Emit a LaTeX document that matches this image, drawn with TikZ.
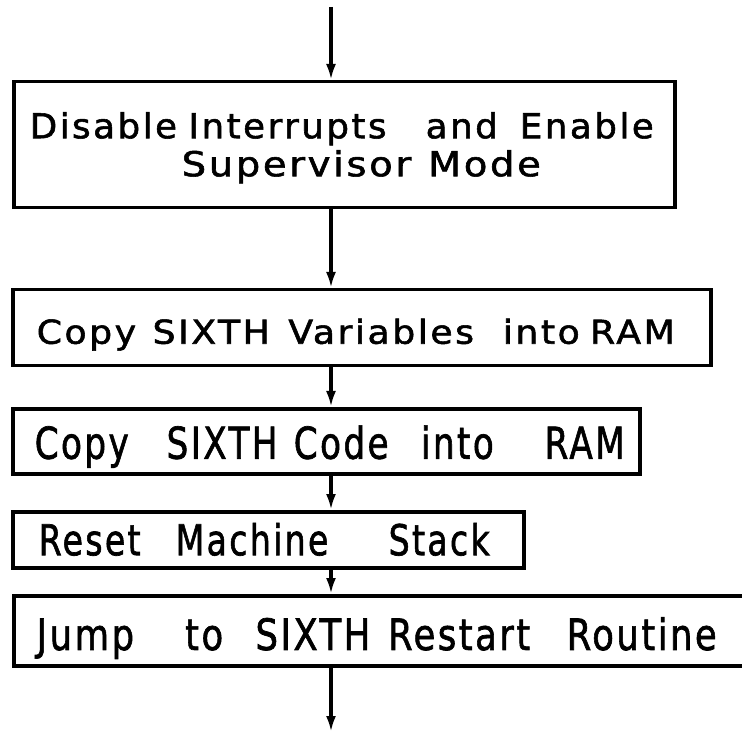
\documentclass[tikz,border=0pt]{standalone}
\usepackage{fontspec}
\setmainfont{DejaVu Sans}
\newfontfamily\lett[LetterSpace=7,FakeBold=1.6]{DejaVu Sans}
\usetikzlibrary{arrows.meta}
\newcommand\g[1]{\hspace{0pt plus #1fil minus #1fil}}
\newcommand\fitwords[3]{%
  \pgfmathsetlengthmacro\natw{#1/#2}%
  \scalebox{#2}[1]{\makebox[\natw][s]{#3}}}
% size, 2*xshift, 2*ydown, width, x-scale, words
\newcommand\oneline[6]{%
  \fontsize{#1}{#1}\lett\hspace*{#2}%
  \raisebox{0pt}[\dimexpr\fontcharht\font`H+#3\relax][0pt]{\fitwords{#4}{#5}{#6}}}
\tikzset{
  flowbox/.style={draw, line width=3.5pt, inner sep=0pt, anchor=north west},
  flow/.style={line width=3.5pt, -{Latex[length=16pt,width=10pt]}}
}
\begin{document}
\begin{tikzpicture}[x=1pt,y=-1pt]
\useasboundingbox (0,0) rectangle (742,735);
\clip (0,0) rectangle (742,735);
\coordinate (top) at (331,7);
\coordinate (bottom) at (331,732);
\node[flowbox, minimum width=661pt, minimum height=126pt] (b1) at (12,80) {%
  \fontsize{34.3}{34.3}\lett\hspace*{-5pt}%
  \vbox{\offinterlineskip
    \hbox{\raisebox{0pt}[25pt][0pt]{\fitwords{624pt}{1.04}{Disable\g{12}Interrupts\g{41}and\g{23}Enable}}}
    \kern13pt
    \hbox{\hspace*{152pt}\raisebox{0pt}[25pt][0pt]{\fitwords{359pt}{1.12}{Supervisor\g{1}Mode}}}}};
\node[flowbox, minimum width=698pt, minimum height=76pt] (b2) at (11,288)
  {\oneline{32.9}{-12pt}{8pt}{638pt}{1.1}{Copy\g{16}SIXTH\g{18}Variables\g{28}into\g{10}RAM}};
\node[flowbox, minimum width=627pt, minimum height=65pt] (b3) at (11,407)
  {\oneline{43.9}{7pt}{3pt}{590pt}{0.78}{Copy\g{35}SIXTH\g{15}Code\g{30}into\g{47}RAM}};
\node[flowbox, minimum width=511pt, minimum height=56pt] (b4) at (11,510)
  {\oneline{42.5}{-8pt}{0pt}{451pt}{0.78}{Reset\g{35}Machine\g{60}Stack}};
\node[flowbox, minimum width=740pt, minimum height=70pt] (b5) at (12,594)
  {\oneline{43.2}{-14pt}{7pt}{680pt}{0.82}{Jump\g{49}to\g{31}SIXTH\g{17}Restart\g{35}Routine}};
\draw[flow] (top) -- (top |- b1.north);
\draw[flow] (b1.south -| top) -- (b2.north -| top);
\draw[flow] (b2.south -| top) -- (b3.north -| top);
\draw[flow] (b3.south -| top) -- (b4.north -| top);
\draw[flow] (b4.south -| top) -- (b5.north -| top);
\draw[flow] (b5.south -| top) -- (bottom);
\end{tikzpicture}
\end{document}
